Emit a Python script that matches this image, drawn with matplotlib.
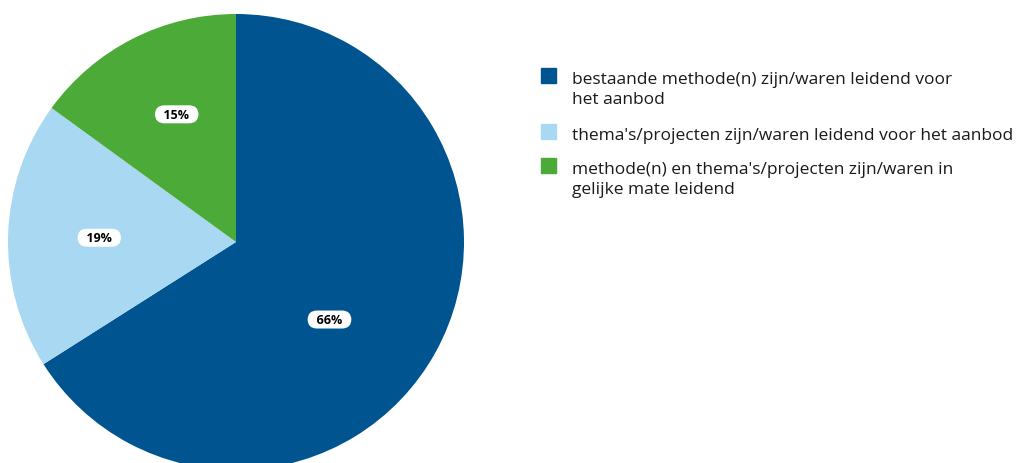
import matplotlib.pyplot as plt
from matplotlib.patches import Rectangle

# Data
labels = [
    'bestaande methode(n) zijn/waren leidend voor\nhet aanbod',
    "thema's/projecten zijn/waren leidend voor het aanbod",
    "methode(n) en thema's/projecten zijn/waren in\ngelijke mate leidend",
]
values = [66, 19, 15]
colors = ['#00548f', '#a8d8f2', '#4caa38']

plt.rcParams['font.family'] = ['Open Sans', 'DejaVu Sans']

fig = plt.figure(figsize=(10.17, 4.64), dpi=100)
W, H = 1017, 464
cx, cy, r = 236, 243, 228
ax = fig.add_axes([(cx - r) / W, (H - cy - r) / H, 2 * r / W, 2 * r / H])

wedges, texts, autotexts = ax.pie(
    values, colors=colors, startangle=90, counterclock=False,
    radius=1, autopct=lambda p: f'  {p:.0f}%  ', pctdistance=0.6,
    textprops=dict(fontsize=9, fontweight='bold', color='black'),
    wedgeprops=dict(linewidth=0))
for t in autotexts:
    t.set_bbox(dict(boxstyle='round,pad=0.2,rounding_size=0.75', fc='white', ec='none'))
# 66% label sits a bit closer to the centre, 15% a bit higher
autotexts[0].set_position((0.41, -0.34))
autotexts[2].set_position((-0.26, 0.56))
ax.set_xlim(-1, 1)
ax.set_ylim(-1, 1)
ax.set_aspect('equal')
ax.axis('off')

# Legend drawn by hand so the square lines up with the first text line
baselines = [84, 140, 174]
for lab, col, yb in zip(labels, colors, baselines):
    fig.patches.append(Rectangle((541 / W, (H - yb) / H), 15 / W, 15 / H,
                                 transform=fig.transFigure, color=col))
    fig.text(572 / W, (H - yb) / H, lab.split('\n')[0], fontsize=12.5,
             va='baseline', ha='left', color='#1a1a1a')
    if '\n' in lab:
        fig.text(572 / W, (H - yb - 20) / H, lab.split('\n')[1], fontsize=12.5,
                 va='baseline', ha='left', color='#1a1a1a')

fig.savefig('out.png', dpi=100)
